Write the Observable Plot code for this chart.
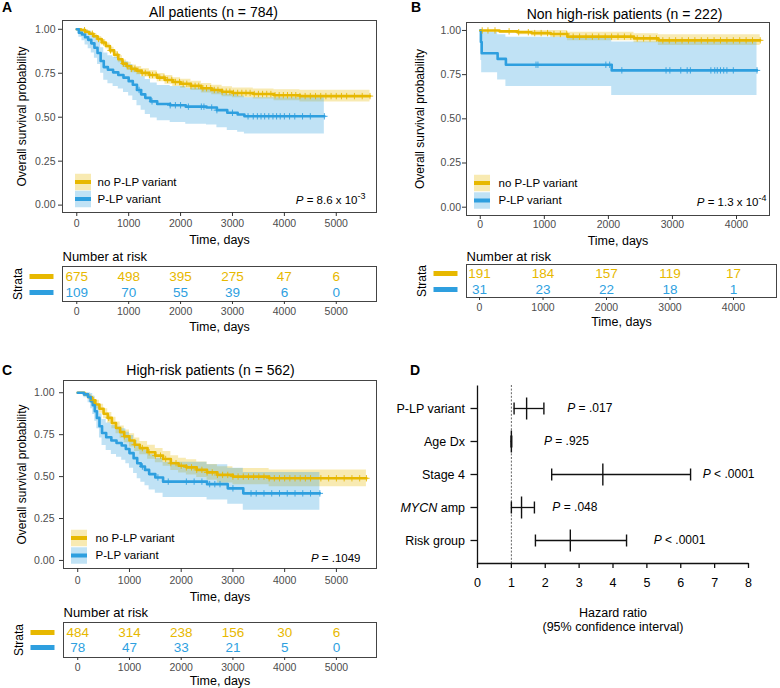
<!DOCTYPE html>
<html><head><meta charset="utf-8">
<script src="https://cdn.jsdelivr.net/npm/d3@7"></script>
<script src="https://cdn.jsdelivr.net/npm/@observablehq/plot@0.6"></script>
<style>
body{margin:0;background:#fff;}
#fig{position:relative;width:780px;height:688px;font-family:"Liberation Sans",Arial,sans-serif;background:#fff;overflow:hidden}
.letter{position:absolute;font-weight:bold;font-size:14px;line-height:14px;color:#000}
</style></head><body><div id="fig"></div>
<script>
// ---------- categories ----------
const groups = ["no P-LP variant", "P-LP variant"];

// ---------- Panel A: All patients (n = 784) ----------
const aNoTime = [0,80,160,240,320,400,480,560,640,720,800,880,960,1050,1150,1250,1400,1550,1700,1850,2000,2200,2400,2600,2800,3000,3400,3800,4300,5650];
const aNoSurv = [1.00,0.995,0.985,0.975,0.96,0.945,0.925,0.905,0.88,0.855,0.83,0.805,0.79,0.775,0.765,0.752,0.74,0.725,0.712,0.70,0.69,0.678,0.665,0.655,0.645,0.638,0.632,0.625,0.62,0.62];
const aNoLow  = [1.00,0.99,0.977,0.965,0.948,0.931,0.909,0.888,0.862,0.836,0.81,0.784,0.768,0.753,0.742,0.729,0.716,0.701,0.687,0.675,0.664,0.652,0.638,0.628,0.617,0.61,0.603,0.594,0.586,0.582];
const aNoHigh = [1.00,1.00,0.993,0.985,0.972,0.959,0.941,0.922,0.898,0.874,0.85,0.826,0.812,0.797,0.788,0.775,0.764,0.749,0.737,0.725,0.716,0.704,0.692,0.682,0.673,0.666,0.661,0.656,0.654,0.656];
const aNoCens = [150,300,420,520,650,780,900,980,1050,1120,1180,1260,1320,1400,1460,1530,1600,1680,1750,1830,1900,1980,2050,2120,2200,2280,2350,2430,2500,2580,2650,2720,2800,2880,2950,3020,3100,3180,3260,3340,3420,3500,3580,3660,3740,3820,3900,3980,4060,4140,4220,4300,4400,4500,4600,4700,4800,4900,5000,5100,5200,5350,5500,5650];
const aPlTime = [0,40,100,160,220,280,340,400,460,520,600,700,800,900,1000,1080,1160,1240,1320,1420,1550,1800,2100,2500,2700,2900,3100,3230,4770];
const aPlSurv = [1.00,0.98,0.97,0.955,0.94,0.92,0.895,0.865,0.82,0.785,0.77,0.755,0.74,0.725,0.705,0.685,0.655,0.63,0.61,0.59,0.575,0.568,0.56,0.555,0.54,0.525,0.515,0.505,0.505];
const aPlLow  = [1.00,0.955,0.935,0.91,0.89,0.865,0.835,0.80,0.75,0.71,0.69,0.675,0.66,0.64,0.62,0.595,0.565,0.54,0.515,0.495,0.48,0.47,0.46,0.455,0.44,0.425,0.415,0.405,0.405];
const aPlHigh = [1.00,1.00,1.00,0.995,0.99,0.975,0.955,0.93,0.895,0.865,0.85,0.84,0.825,0.815,0.80,0.78,0.755,0.73,0.715,0.695,0.68,0.675,0.665,0.66,0.645,0.63,0.62,0.61,0.61];
const aPlCens = [1200,1450,1800,1900,2000,2150,2400,2450,2600,2700,3000,3300,3400,3480,3550,3620,3700,3780,3850,3920,4000,4100,4200,4350,4500,4770];
const aRiskTimes = [0,1000,2000,3000,4000,5000];
const aRiskNo = [675,498,395,275,47,6];
const aRiskPl = [109,70,55,39,6,0];

// ---------- Panel B: Non high-risk patients (n = 222) ----------
const bNoTime = [0,300,580,800,1100,1360,2400,2780,4370];
const bNoSurv = [1.0,0.995,0.99,0.985,0.98,0.965,0.955,0.944,0.944];
const bNoLow  = [1.0,0.985,0.975,0.968,0.96,0.942,0.93,0.915,0.915];
const bNoHigh = [1.0,1.0,1.0,1.0,1.0,0.99,0.982,0.975,0.975];
const bNoCens = [30,120,230,450,600,750,850,950,1050,1150,1250,1350,1450,1550,1650,1750,1850,1950,2050,2150,2250,2350,2450,2550,2650,2750,2850,2950,3050,3150,3250,3350,3450,3550,3650,3750,3850,3950,4050,4150,4250,4370];
const bPlTime = [0,10,22,271,400,2052,4320];
const bPlSurv = [1.0,0.935,0.871,0.839,0.806,0.774,0.774];
const bPlLow  = [1.0,0.83,0.76,0.72,0.683,0.632,0.632];
const bPlHigh = [1.0,1.0,0.99,0.975,0.962,0.935,0.935];
const bPlCens = [870,900,1960,2020,2210,2900,2960,3130,3230,3280,3600,3660,3700,3750,3800,3850,3950,4320];
const bRiskTimes = [0,1000,2000,3000,4000];
const bRiskNo = [191,184,157,119,17];
const bRiskPl = [31,23,22,18,1];

// ---------- Panel C: High-risk patients (n = 562) ----------
const cNoTime = [0,130,200,270,340,420,500,580,660,740,820,900,1000,1100,1200,1350,1500,1650,1800,1950,2100,2300,2500,2700,3000,3700,5580];
const cNoSurv = [1.0,0.99,0.975,0.955,0.93,0.905,0.875,0.85,0.82,0.79,0.765,0.74,0.715,0.69,0.67,0.645,0.625,0.605,0.58,0.565,0.555,0.54,0.525,0.51,0.50,0.49,0.49];
const cNoLow  = [1.0,0.98,0.96,0.935,0.905,0.878,0.845,0.818,0.786,0.755,0.728,0.702,0.676,0.65,0.63,0.604,0.583,0.562,0.537,0.521,0.51,0.494,0.478,0.462,0.452,0.44,0.44];
const cNoHigh = [1.0,1.0,0.99,0.975,0.955,0.932,0.905,0.882,0.854,0.825,0.802,0.778,0.755,0.73,0.71,0.687,0.668,0.649,0.624,0.61,0.6,0.587,0.572,0.558,0.548,0.54,0.54];
const cNoCens = [300,600,900,1100,1250,1380,1500,1600,1700,1800,1900,2000,2100,2200,2300,2400,2500,2600,2700,2800,2900,3000,3100,3200,3300,3400,3500,3600,3700,3800,3900,4000,4100,4200,4300,4400,4500,4700,4850,5000,5150,5300,5450,5580];
const cPlTime = [0,120,200,250,290,330,370,420,470,550,650,750,850,930,1000,1080,1150,1220,1300,1380,1500,1650,2500,2900,3200,4680];
const cPlSurv = [1.0,0.99,0.975,0.95,0.925,0.89,0.85,0.80,0.76,0.735,0.715,0.70,0.685,0.665,0.64,0.61,0.58,0.56,0.54,0.515,0.495,0.47,0.455,0.43,0.40,0.40];
const cPlLow  = [1.0,0.97,0.94,0.905,0.87,0.83,0.785,0.73,0.685,0.655,0.632,0.615,0.598,0.577,0.55,0.518,0.487,0.466,0.445,0.42,0.40,0.375,0.36,0.335,0.30,0.30];
const cPlHigh = [1.0,1.0,1.0,0.995,0.98,0.955,0.92,0.875,0.84,0.82,0.805,0.795,0.785,0.765,0.745,0.715,0.69,0.67,0.655,0.63,0.61,0.585,0.57,0.55,0.525,0.525];
const cPlCens = [1250,1550,1750,2100,2250,2400,2550,2650,2750,3000,3350,3450,3600,3750,3900,4050,4200,4350,4500,4680];
const cRiskTimes = [0,1000,2000,3000,4000,5000];
const cRiskNo = [484,314,238,156,30,6];
const cRiskPl = [78,47,33,21,5,0];

// ---------- Panel D: hazard ratios ----------
const dVars = ["P-LP variant","Age Dx","Stage 4","MYCN amp","Risk group"];
const dHR   = [1.45, 1.0, 3.70, 1.30, 2.74];
const dLow  = [1.08, 0.99, 2.19, 1.00, 1.71];
const dHigh = [1.96, 1.01, 6.29, 1.68, 4.40];
const dPText = ["P = .017","P = .925","P < .0001","P = .048","P < .0001"];
const dPLabelAt = [2.65, 1.96, 6.65, 2.21, 5.20];

const kmYTicks = [0, 0.25, 0.5, 0.75, 1];
const hrTicks = [0,1,2,3,4,5,6,7,8];

// ---------- helpers ----------
const YEL = "#E7B800", BLU = "#2E9FDF";
const colorScale = {domain: groups, range: [YEL, BLU]};
const FONT = '"Liberation Sans", Arial, sans-serif';
const fig = document.getElementById("fig");

function place(node, left, top) {
  node.style.position = "absolute";
  node.style.left = left + "px";
  node.style.top = top + "px";
  fig.appendChild(node);
}
function rectSym(w, h) {
  return {draw(ctx) { ctx.moveTo(-w/2, -h/2); ctx.lineTo(w/2, -h/2); ctx.lineTo(w/2, h/2); ctx.lineTo(-w/2, h/2); ctx.closePath(); }};
}
function series(group, time, surv, low, high) {
  return time.map((t, i) => ({group, time: t, surv: surv[i], low: low[i], high: high[i]}));
}
function censored(group, ctimes, time, surv) {
  return ctimes.map(t => ({group, time: t, surv: surv[Math.max(0, d3.bisectRight(time, t) - 1)]}));
}
function baseStyle(fs) {
  return {fontFamily: FONT, fontSize: fs + "px", color: "#333", background: "transparent", overflow: "visible"};
}

function kmPanel(o) {
  const data = [...series(groups[0], ...o.no), ...series(groups[1], ...o.pl)];
  const cens = [...censored(groups[0], o.noCens, o.no[0], o.no[1]), ...censored(groups[1], o.plCens, o.pl[0], o.pl[1])];
  const legend = groups.flatMap((g, i) => [
    Plot.dot([g], {frameAnchor: "bottom-left", dx: o.keyDx, dy: o.keyDy[i], symbol: rectSym(16, 16.5), fill: d => d, fillOpacity: 0.3, stroke: "none"}),
    Plot.dot([g], {frameAnchor: "bottom-left", dx: o.keyDx, dy: o.keyDy[i], symbol: rectSym(16, 4), fill: d => d, stroke: "none"}),
    Plot.text([g], {frameAnchor: "bottom-left", dx: o.textDx, dy: o.keyDy[i], text: d => d, textAnchor: "start", lineAnchor: "middle", fontSize: 11.5, fill: "#000"})
  ]);
  const p = Plot.plot({
    width: o.width, height: o.height,
    marginLeft: o.m[0], marginRight: o.m[1], marginTop: o.m[2], marginBottom: o.m[3],
    x: {domain: o.xDomain}, y: {domain: o.yDomain},
    color: colorScale,
    style: baseStyle(10.5),
    marks: [
      Plot.areaY(data, {x: "time", y1: "low", y2: "high", fill: "group", fillOpacity: 0.3, curve: "step-after"}),
      Plot.line(data, {x: "time", y: "surv", stroke: "group", strokeWidth: 2.6, curve: "step-after"}),
      Plot.dot(cens, {x: "time", y: "surv", stroke: "group", symbol: "plus", r: 2.2, strokeWidth: 0.9}),
      Plot.frame({stroke: "#444", strokeWidth: 1}),
      Plot.axisX({ticks: o.xTicks, tickFormat: "d", tickSize: 4, tickPadding: o.xPad, label: null, fill: "#4d4d4d"}),
      Plot.axisY({ticks: kmYTicks, tickFormat: ".2f", tickSize: 4, tickPadding: o.yPad, label: null, fill: "#4d4d4d"}),
      Plot.text([o.title], {frameAnchor: "top", dx: o.titleDx, dy: o.titleDy, text: d => d, lineAnchor: "middle", fontSize: 14, fill: "#000"}),
      Plot.text(["Overall survival probability"], {frameAnchor: "left", dx: o.yLabDx, rotate: -90, text: d => d, lineAnchor: "middle", textAnchor: "middle", fontSize: 12, fill: "#000"}),
      Plot.text(["Time, days"], {frameAnchor: "bottom", dy: o.xLabDy, text: d => d, lineAnchor: "middle", fontSize: 12.5, fill: "#000"}),
      ...legend,
      Plot.text([o.pText], {frameAnchor: "bottom-right", dx: o.pDx, dy: o.pDy, text: d => d, textAnchor: "end", lineAnchor: "middle", fontSize: 11.5, fill: "#000"})
    ]
  });
  place(p, o.left, o.top);
}

function riskTable(o) {
  const rows = [
    ...o.times.map((t, i) => ({group: groups[0], time: t, n: o.no[i]})),
    ...o.times.map((t, i) => ({group: groups[1], time: t, n: o.pl[i]}))
  ];
  const p = Plot.plot({
    width: o.width, height: o.height,
    marginLeft: o.m[0], marginRight: o.m[1], marginTop: o.m[2], marginBottom: o.m[3],
    x: {domain: o.xDomain},
    y: {type: "point", domain: groups, padding: o.pad, axis: null},
    color: colorScale,
    style: baseStyle(10.5),
    marks: [
      Plot.text(rows, {x: "time", y: "group", text: d => String(d.n), fill: "group", fontSize: 13.5, lineAnchor: "middle"}),
      Plot.frame({stroke: "#444", strokeWidth: 1}),
      Plot.axisX({ticks: o.times, tickFormat: "d", tickSize: 3, tickPadding: o.xPad, label: null, fill: "#4d4d4d"}),
      Plot.dot(groups, {y: d => d, frameAnchor: "left", dx: -21, symbol: rectSym(24, 5), fill: d => d, stroke: "none"}),
      Plot.text(["Number at risk"], {frameAnchor: "top-left", dy: o.nrDy, text: d => d, textAnchor: "start", lineAnchor: "middle", fontSize: 13, fill: "#000"}),
      Plot.text(["Strata"], {frameAnchor: "left", dx: -44, rotate: -90, text: d => d, textAnchor: "middle", lineAnchor: "middle", fontSize: 12, fill: "#000"}),
      Plot.text(["Time, days"], {frameAnchor: "bottom", dy: o.xLabDy, text: d => d, lineAnchor: "middle", fontSize: 12.5, fill: "#000"})
    ]
  });
  place(p, o.left, o.top);
}

// ---------- Panel A ----------
kmPanel({left: 0, top: 0, width: 390, height: 250, m: [62, 14, 20, 38],
  xDomain: [-275, 5775], yDomain: [-0.042, 1.05], xTicks: aRiskTimes,
  no: [aNoTime, aNoSurv, aNoLow, aNoHigh], pl: [aPlTime, aPlSurv, aPlLow, aPlHigh],
  noCens: aNoCens, plCens: aPlCens,
  title: "All patients (n = 784)", titleDx: -6, titleDy: -7.5,
  yLabDx: -40, xLabDy: 27.5, xPad: 3.3, yPad: 3,
  keyDx: 20.5, keyDy: [-30.5, -13.5], textDx: 35,
  pText: "P = 8.6 x 10^-3", pDx: -11, pDy: -12});
riskTable({left: 0, top: 245, width: 390, height: 88, m: [62, 14, 21, 32], pad: 0.54,
  xDomain: [-275, 5775], times: aRiskTimes, no: aRiskNo, pl: aRiskPl, xPad: 2.7, nrDy: -9.3, xLabDy: 25});

// ---------- Panel B ----------
kmPanel({left: 390, top: 0, width: 390, height: 250, m: [76, 11, 22, 35],
  xDomain: [-215, 4515], yDomain: [-0.047, 1.045], xTicks: bRiskTimes,
  no: [bNoTime, bNoSurv, bNoLow, bNoHigh], pl: [bPlTime, bPlSurv, bPlLow, bPlHigh],
  noCens: bNoCens, plCens: bPlCens,
  title: "Non high-risk patients (n = 222)", titleDx: 6.5, titleDy: -8,
  yLabDx: -46, xLabDy: 25.7, xPad: 1.5, yPad: 1.5,
  keyDx: 15.5, keyDy: [-32.5, -15], textDx: 32,
  pText: "P = 1.3 x 10^-4", pDx: -3, pDy: -13.3});
riskTable({left: 390, top: 245, width: 390, height: 85, m: [76, 4, 19, 33], pad: 0.53,
  xDomain: [-205, 4677], times: bRiskTimes, no: bRiskNo, pl: bRiskPl, xPad: 3.3, nrDy: -7.3, xLabDy: 24});

// ---------- Panel C ----------
kmPanel({left: 0, top: 330, width: 390, height: 275, m: [63, 14, 50, 37],
  xDomain: [-275, 5775], yDomain: [-0.048, 1.073], xTicks: cRiskTimes,
  no: [cNoTime, cNoSurv, cNoLow, cNoHigh], pl: [cPlTime, cPlSurv, cPlLow, cPlHigh],
  noCens: cNoCens, plCens: cPlCens,
  title: "High-risk patients (n = 562)", titleDx: -9.5, titleDy: -10,
  yLabDx: -41, xLabDy: 28, xPad: 4.5, yPad: 5,
  keyDx: 15.5, keyDy: [-30.5, -13], textDx: 32,
  pText: "P = .1049", pDx: -16, pDy: -10});
riskTable({left: 0, top: 600, width: 390, height: 88, m: [63, 14, 22, 31], pad: 0.62,
  xDomain: [-275, 5775], times: cRiskTimes, no: cRiskNo, pl: cRiskPl, xPad: 3.3, nrDy: -9.3, xLabDy: 23});

// ---------- Panel D ----------
const dW = 390, dH = 358, dM = [87, 32, 55, 125];
const dFw = dW - dM[0] - dM[1], dFh = dH - dM[2] - dM[3];
const dRows = dVars.map((v, i) => ({v, hr: dHR[i], low: dLow[i], high: dHigh[i], p: dPText[i], px: dPLabelAt[i]}));
const dPlot = Plot.plot({
  width: dW, height: dH, marginLeft: dM[0], marginRight: dM[1], marginTop: dM[2], marginBottom: dM[3],
  x: {domain: [0, 8]},
  y: {type: "point", domain: dVars, padding: 0.637},
  style: {...baseStyle(12.5), color: "#000"},
  marks: [
    Plot.ruleX([1], {stroke: "#555", strokeWidth: 0.9, strokeDasharray: "2,1.6"}),
    Plot.ruleY(dRows, {y: "v", x1: "low", x2: "high", stroke: "#111", strokeWidth: 1.3}),
    Plot.dot(dRows, {x: "low", y: "v", symbol: rectSym(1.4, 12), fill: "#111", stroke: "none"}),
    Plot.dot(dRows, {x: "high", y: "v", symbol: rectSym(1.4, 12), fill: "#111", stroke: "none"}),
    Plot.dot(dRows, {x: "hr", y: "v", symbol: rectSym(1.4, 22), fill: "#111", stroke: "none"}),
    Plot.text(dRows, {x: "px", y: "v", text: "p", textAnchor: "start", lineAnchor: "middle", fontSize: 12, fill: "#000"}),
    // axis lines: only the bottom and left sides of the frame are stroked
    Plot.frame({stroke: "#111", strokeWidth: 1.3, strokeDasharray: `0,${dFw + dFh},${dFw + dFh + 2}`}),
    Plot.axisX({ticks: hrTicks, tickSize: 5, tickPadding: 10, label: null, stroke: "#111", strokeWidth: 1.3}),
    Plot.axisY({tickSize: 6.5, tickPadding: 6, label: null, stroke: "#111", strokeWidth: 1.3}),
    Plot.text(["Hazard ratio\n(95% confidence interval)"], {frameAnchor: "bottom", dy: 55.7, text: d => d, lineAnchor: "middle", lineHeight: 1.12, fontSize: 12.5, fill: "#000"})
  ]
});
place(dPlot, 390, 330);

// ---------- panel letters ----------
[["A", 2, 0], ["B", 411, 0], ["C", 2, 363], ["D", 410, 363]].forEach(([t, x, y]) => {
  const d = document.createElement("div");
  d.className = "letter"; d.textContent = t;
  d.style.left = x + "px"; d.style.top = y + "px";
  fig.appendChild(d);
});

// ---------- rich text: italic P, superscripts, italic gene name ----------
const NS = "http://www.w3.org/2000/svg";
fig.querySelectorAll("text").forEach(el => {
  if (el.childElementCount > 0) return;
  const s = el.textContent;
  if (/^P [=<]/.test(s)) {
    el.textContent = "";
    const ti = document.createElementNS(NS, "tspan");
    ti.setAttribute("font-style", "italic"); ti.textContent = "P"; el.appendChild(ti);
    let rest = s.slice(1), sup = null;
    const k = rest.indexOf("^");
    if (k >= 0) { sup = rest.slice(k + 1); rest = rest.slice(0, k); }
    el.appendChild(document.createTextNode(rest));
    if (sup) {
      const ts = document.createElementNS(NS, "tspan");
      ts.setAttribute("dy", "-5"); ts.setAttribute("font-size", "0.78em"); ts.textContent = sup;
      el.appendChild(ts);
    }
  } else if (s === "MYCN amp") {
    el.textContent = "";
    const ti = document.createElementNS(NS, "tspan");
    ti.setAttribute("font-style", "italic"); ti.textContent = "MYCN"; el.appendChild(ti);
    el.appendChild(document.createTextNode(" amp"));
  }
});
</script></body></html>
